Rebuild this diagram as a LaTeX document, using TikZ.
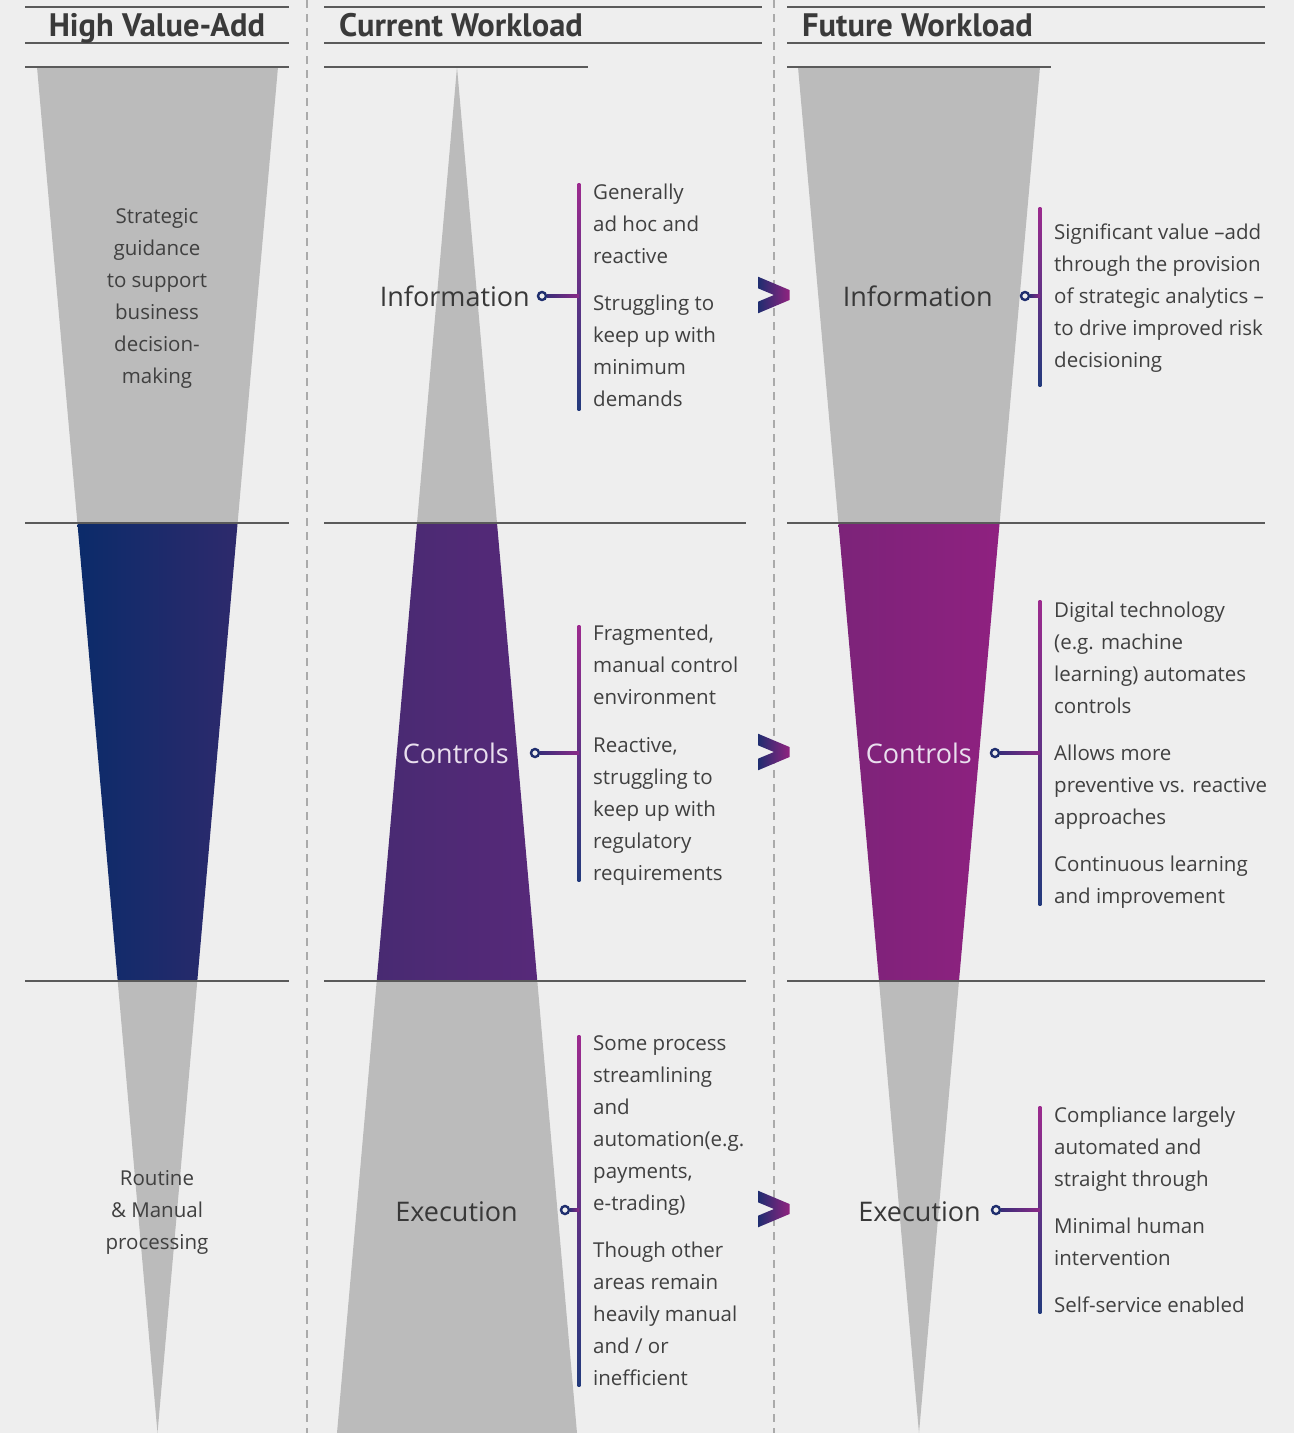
\documentclass[tikz,border=0pt]{standalone}
\usepackage{fontspec}
\setmainfont{Open Sans}
\newfontfamily\headfont{PT Sans}
\usetikzlibrary{calc}
\definecolor{bg}{HTML}{EEEEEE}
\definecolor{fgray}{HTML}{BBBBBB}
\definecolor{txt}{HTML}{404040}
\definecolor{lbl}{HTML}{383838}
\definecolor{hdc}{HTML}{3A3A3A}
\definecolor{rulec}{HTML}{5A5A5A}
\definecolor{dashc}{HTML}{AAAAAA}
\definecolor{bl}{HTML}{0B2B6A}
\definecolor{br}{HTML}{2E2A6C}
\definecolor{pl}{HTML}{482A72}
\definecolor{pr}{HTML}{572979}
\definecolor{ml}{HTML}{7C2379}
\definecolor{mr}{HTML}{8F2180}
\definecolor{navy}{HTML}{1F2E6E}
\definecolor{vtop}{HTML}{9C2A8E}
\definecolor{vbot}{HTML}{233A7C}
\definecolor{hl}{HTML}{3A2D78}
\definecolor{hr}{HTML}{8A2A88}
\definecolor{chl}{HTML}{1F2D70}
\definecolor{chr}{HTML}{90237F}
\definecolor{ctxt}{HTML}{E9DFEE}
\newcommand\mkconn[6]{%
  \node[dot] (c#1) at (#2,#3) {};
  \coordinate (t#1) at (#4,#5);
  \coordinate (b#1) at (#4,#6);
  \coordinate (j#1) at (#4,#3);
  \shade[top color=vtop, bottom color=vbot] ($(t#1)+(-1.3,0)$) rectangle ($(b#1)+(1.3,0)$);
  \shade[left color=hl, right color=hr] ($(c#1.east)+(0,-1.2)$) rectangle ($(j#1)+(0,1.2)$);
}
\newcommand\mkchev[1]{%
  \begin{scope}[shift={(774,#1)}]
    \shade[left color=chl, right color=chr] (-16,-18.3) -- (15.5,-5) -- (15.5,5) -- (-16,18.3) -- (-16,6.7) -- (0,0) -- (-16,-6.7) -- cycle;
  \end{scope}
}
\begin{document}
\begin{tikzpicture}[x=1pt,y=-1pt,
  body/.style={inner sep=0, text=txt, font=\fontsize{20.5}{32}\selectfont, align=left, anchor=north west},
  cbody/.style={body, align=center, anchor=north},
  lab/.style={inner sep=0, text=lbl, font=\fontsize{27}{32}\selectfont, anchor=base east},
  hd/.style={inner sep=0, text=hdc, font=\headfont\bfseries\fontsize{32.5}{36}\selectfont},
  dot/.style={circle, draw=navy, line width=2.4pt, fill=bg, minimum size=8pt, inner sep=0},
  rulel/.style={draw=rulec, line width=1.4pt},
  dashl/.style={draw=dashc, line width=1.5pt, dash pattern=on 8pt off 6pt},
]
\useasboundingbox (0,0) rectangle (1294,1433);
\fill[bg] (0,0) rectangle (1294,1433);

% column 1 funnel
\fill[fgray] (37,67) -- (278,67) -- (237.6,523) -- (77.4,523) -- cycle;
\shade[left color=bl, right color=br] (77.4,523) -- (237.6,523) -- (197.3,981) -- (117.7,981) -- cycle;
\fill[fgray] (117.7,981) -- (197.3,981) -- (157.5,1433) -- cycle;

% column 2 funnel
\fill[fgray] (457,67) -- (497,523) -- (417,523) -- cycle;
\shade[left color=pl, right color=pr] (417,523) -- (497,523) -- (537.3,981) -- (376.7,981) -- cycle;
\fill[fgray] (376.7,981) -- (537.3,981) -- (577,1433) -- (337,1433) -- cycle;

% column 3 funnel
\fill[fgray] (798,67) -- (1040,67) -- (999.6,523) -- (838.4,523) -- cycle;
\shade[left color=ml, right color=mr] (838.4,523) -- (999.6,523) -- (959,981) -- (879,981) -- cycle;
\fill[fgray] (879,981) -- (959,981) -- (919,1433) -- cycle;

% rules
\draw[rulel] (25,7) -- (289,7);
\draw[rulel] (25,43) -- (289,43);
\draw[rulel] (25,67) -- (289,67);
\draw[rulel] (324,7) -- (762,7);
\draw[rulel] (324,43) -- (762,43);
\draw[rulel] (324,67) -- (588,67);
\draw[rulel] (787,7) -- (1265,7);
\draw[rulel] (787,43) -- (1265,43);
\draw[rulel] (787,67) -- (1051,67);
\draw[rulel] (25,523) -- (289,523);
\draw[rulel] (324,523) -- (746,523);
\draw[rulel] (787,523) -- (1265,523);
\draw[rulel] (25,981) -- (289,981);
\draw[rulel] (324,981) -- (746,981);
\draw[rulel] (787,981) -- (1265,981);

% dashed separators
\draw[dashl] (307,0) -- (307,1433);
\draw[dashl] (774,0) -- (774,1433);

% chevrons
\mkchev{295}
\mkchev{752}
\mkchev{1209}

% connectors
\mkconn{a}{542}{296}{579}{183}{410}
\mkconn{b}{535}{753}{579}{625}{881}
\mkconn{c}{565}{1210}{579}{1035}{1386}
\mkconn{d}{1025}{296}{1040}{207}{386}
\mkconn{e}{995}{753}{1040}{600}{905}
\mkconn{f}{996}{1210}{1040}{1106}{1313}

% headers
\node[hd, anchor=base] (h1) at (157,36) {High Value-Add};
\node[hd, anchor=base west] (h2) at (339,36) {Current Workload};
\node[hd, anchor=base west] (h3) at (802,36) {Future Workload};

% column 1 texts
\node[cbody] (s1) at (157,200.6) {\strut Strategic\\guidance\\to support\\business\\decision-\\making};
\node[cbody] (s2) at (157,1162.6) {\strut Routine\\\&~Manual\\processing};

% labels
\node[lab] (l1) at (530,306) {Information};
\node[lab, text=ctxt] (l2) at (509,763) {Controls};
\node[lab] (l3) at (518,1221) {Execution};
\node[lab] (l4) at (993,306) {Information};
\node[lab, text=ctxt] (l5) at (972,763) {Controls};
\node[lab] (l6) at (981,1221) {Execution};

% descriptions
\node[body] (d1) at (593,176.6) {\strut Generally\\ad hoc and\\reactive\\[15pt]Struggling to\\keep up with\\minimum\\demands};
\node[body] (d2) at (593,617.6) {\strut Fragmented,\\manual control\\environment\\[16pt]Reactive,\\struggling to\\keep up with\\regulatory\\requirements};
\node[body] (d3) at (593,1027.6) {\strut Some process\\streamlining\\and\\automation(e.g.\\payments,\\e-trading)\\[15pt]Though other\\areas remain\\heavily manual\\and / or\\inefficient};
\node[body] (d4) at (1054,216.6) {\strut Significant value –add\\through the provision\\of strategic analytics –\\to drive improved risk\\decisioning};
\node[body] (d5) at (1054,594.6) {\strut Digital technology\\(e.g. machine\\learning) automates\\controls\\[15pt]Allows more\\preventive vs. reactive\\approaches\\[15pt]Continuous learning\\and improvement};
\node[body] (d6) at (1054,1099.6) {\strut Compliance largely\\automated and\\straight through\\[15pt]Minimal human\\intervention\\[15pt]Self-service enabled};
\end{tikzpicture}
\end{document}
